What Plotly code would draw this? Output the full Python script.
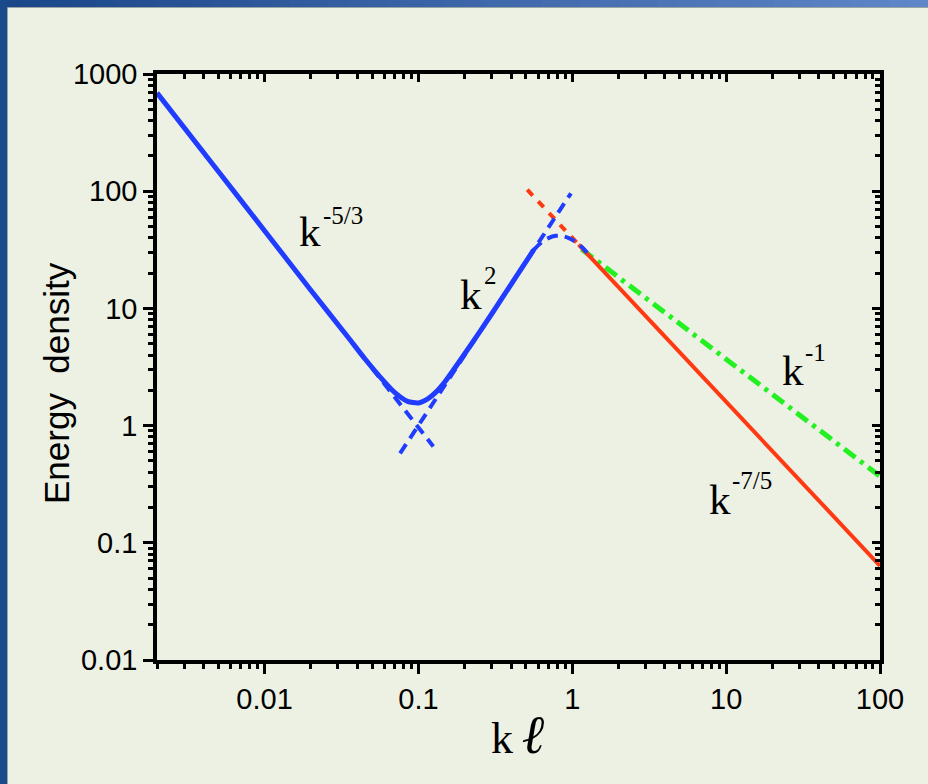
import plotly.graph_objects as go

# ---------------- data ----------------
blue_k = [0.002, 0.005, 0.01, 0.02, 0.035, 0.045, 0.06, 0.07, 0.085, 0.1, 0.115, 0.13, 0.15, 0.2, 0.3, 0.45, 0.56]
blue_E = [690, 148, 46, 14.3, 5.65, 3.7, 2.37, 1.92, 1.61, 1.56, 1.69, 1.93, 2.4, 4.1, 9.0, 20.3, 31.4]

blue_peak_k = [0.56, 0.63, 0.7, 0.78, 0.86, 0.95, 1.05, 1.15, 1.25]
blue_peak_E = [31.4, 36.5, 39.8, 41.6, 41.5, 39.8, 37.0, 33.6, 29.8]

blue_m53_k = [0.05, 0.125]
blue_m53_E = [3.09, 0.663]

blue_p2_k = [0.076, 0.98]
blue_p2_E = [0.58, 96.0]

red_dash_k = [0.51, 1.1]
red_dash_E = [103.0, 35.0]

red_k = [1.1, 100]
red_E = [35.0, 0.0636]

green_k = [1.15, 100]
green_E = [32.0, 0.37]

x_tickvals = [0.01, 0.1, 1, 10, 100]
x_ticktext = ["0.01", "0.1", "1", "10", "100"]
y_tickvals = [0.01, 0.1, 1, 10, 100, 1000]
y_ticktext = ["0.01", "0.1", "1", "10", "100", "1000"]

# annotation labels: (base, exponent, base log-x, base log-y, exp log-x, exp log-y)
labels = [
    ("k", "-5/3", -1.789, 1.652, -1.633, 1.790),
    ("k", "2", -0.743, 1.119, -0.587, 1.278),
    ("k", "-1", 1.350, 0.471, 1.500, 0.621),
    ("k", "-7/5", 0.876, -0.630, 1.025, -0.471),
]

# ---------------- styling ----------------
W, H = 928, 784
L, R, T, B = 157, 48, 74, 124
PW, PH = W - L - R, H - T - B

def px2x(px):
    return (px - L) / PW

def py2y(py):
    return (H - B - py) / PH

panel = "#edf1e4"
blue = "#1f3cff"
red = "#ff3a12"
green = "#22f020"
tickfont = dict(family="Arial, Liberation Sans, Helvetica", size=29, color="black")
serif = "Liberation Serif, Times New Roman, Times, serif"

minor_x = [m * 10 ** e for e in range(-3, 2) for m in range(2, 10) if 0.002 <= m * 10 ** e <= 100]
minor_y = [m * 10 ** e for e in range(-2, 3) for m in range(2, 10)]

fig = go.Figure()

fig.add_trace(go.Scatter(x=green_k, y=green_E, mode="lines",
                         line=dict(color=green, width=5, dash="14px,6px,4px,6px")))
fig.add_trace(go.Scatter(x=red_dash_k, y=red_dash_E, mode="lines",
                         line=dict(color=red, width=4, dash="8px,8px")))
fig.add_trace(go.Scatter(x=red_k, y=red_E, mode="lines",
                         line=dict(color=red, width=4)))
fig.add_trace(go.Scatter(x=blue_m53_k, y=blue_m53_E, mode="lines",
                         line=dict(color=blue, width=4, dash="11px,7px")))
fig.add_trace(go.Scatter(x=blue_p2_k, y=blue_p2_E, mode="lines",
                         line=dict(color=blue, width=4, dash="11px,7px")))
fig.add_trace(go.Scatter(x=blue_peak_k, y=blue_peak_E, mode="lines",
                         line=dict(color=blue, width=4, dash="11px,7px", shape="spline")))
fig.add_trace(go.Scatter(x=blue_k, y=blue_E, mode="lines",
                         line=dict(color=blue, width=5, shape="spline", smoothing=0.6)))
# invisible trace to carry the mirrored (inside-tick) axes
fig.add_trace(go.Scatter(x=[1], y=[1], xaxis="x2", yaxis="y2", mode="markers",
                         marker=dict(opacity=0), hoverinfo="skip"))

axis_common = dict(type="log", showgrid=False, zeroline=False, showline=True,
                   linecolor="black", linewidth=3.5, ticks="outside", ticklen=10,
                   tickwidth=3, tickcolor="black", tickfont=tickfont)

fig.update_layout(
    width=W, height=H,
    margin=dict(l=L, r=R, t=T, b=B, autoexpand=False),
    paper_bgcolor=panel, plot_bgcolor="rgba(0,0,0,0)",
    showlegend=False,
    xaxis=dict(range=[-2.69897, 2], tickmode="array", tickvals=x_tickvals, ticktext=x_ticktext,
               minor=dict(tickmode="array", tickvals=minor_x, ticks="outside", ticklen=5,
                          tickwidth=2.5, tickcolor="black", showgrid=False),
               **axis_common),
    yaxis=dict(range=[-2, 3], tickmode="array", tickvals=y_tickvals, ticktext=y_ticktext,
               minor=dict(tickmode="array", tickvals=minor_y, ticks="outside", ticklen=5,
                          tickwidth=2.5, tickcolor="black", showgrid=False),
               **axis_common),
    xaxis2=dict(type="log", range=[-2.69897, 2], overlaying="x", side="top", anchor="y2",
                showgrid=False, zeroline=False, showline=True, linecolor="black", linewidth=3.5,
                ticks="inside", ticklen=8, tickwidth=3, tickcolor="black",
                tickmode="array", tickvals=x_tickvals, showticklabels=False,
                minor=dict(tickmode="array", tickvals=minor_x, ticks="inside", ticklen=5,
                           tickwidth=2.5, tickcolor="black", showgrid=False)),
    yaxis2=dict(type="log", range=[-2, 3], overlaying="y", side="right", anchor="x2",
                showgrid=False, zeroline=False, showline=True, linecolor="black", linewidth=3.5,
                ticks="inside", ticklen=8, tickwidth=3, tickcolor="black",
                tickmode="array", tickvals=y_tickvals, showticklabels=False,
                minor=dict(tickmode="array", tickvals=minor_y, ticks="inside", ticklen=5,
                           tickwidth=2.5, tickcolor="black", showgrid=False)),
)

# ---------------- frame decoration (blue gradient border) ----------------
shapes = []
c0 = (0x1a, 0x47, 0x8a)
c1 = (0x5e, 0x86, 0xc8)
n = 48
for i in range(n):
    t = i / (n - 1)
    col = "rgb(%d,%d,%d)" % tuple(round(a + (b - a) * t) for a, b in zip(c0, c1))
    shapes.append(dict(type="rect", xref="paper", yref="paper", layer="below",
                       x0=px2x(i * W / n), x1=px2x((i + 1) * W / n + 1),
                       y0=py2y(8), y1=py2y(0), line=dict(width=0), fillcolor=col))
shapes.append(dict(type="rect", xref="paper", yref="paper", layer="below",
                   x0=px2x(0), x1=px2x(8), y0=py2y(H), y1=py2y(0),
                   line=dict(width=0), fillcolor="rgb(26,74,140)"))
shapes.append(dict(type="line", xref="paper", yref="paper", layer="below",
                   x0=px2x(7.5), x1=px2x(7.5), y0=py2y(H), y1=py2y(7.5),
                   line=dict(width=1, color="#9aa3a6")))
shapes.append(dict(type="line", xref="paper", yref="paper", layer="below",
                   x0=px2x(7.5), x1=px2x(W), y0=py2y(7.5), y1=py2y(7.5),
                   line=dict(width=1, color="#9aa3a6")))
fig.update_layout(shapes=shapes)

# ---------------- text ----------------
ann = []
for base, ex, bx, by, ex_x, ex_y in labels:
    ann.append(dict(text=base, x=bx, y=by, xref="x", yref="y", xanchor="left", yanchor="middle",
                    showarrow=False, font=dict(family=serif, size=43, color="black")))
    ann.append(dict(text=ex, x=ex_x, y=ex_y, xref="x", yref="y", xanchor="left", yanchor="middle",
                    showarrow=False, font=dict(family=serif, size=25, color="black")))

ann.append(dict(text="k\u2009<span style='font-size:54px'><i>\u2113</i></span>",
                x=px2x(518), y=py2y(735), xref="paper", yref="paper",
                xanchor="center", yanchor="middle", showarrow=False,
                font=dict(family=serif, size=44, color="black")))
ann.append(dict(text="Energy\u00a0\u00a0density", textangle=-90,
                x=px2x(56), y=py2y(383), xref="paper", yref="paper",
                xanchor="center", yanchor="middle", showarrow=False,
                font=dict(family="Arial, Liberation Sans, Helvetica", size=35, color="black")))
fig.update_layout(annotations=ann)

fig.write_html("out.html")
